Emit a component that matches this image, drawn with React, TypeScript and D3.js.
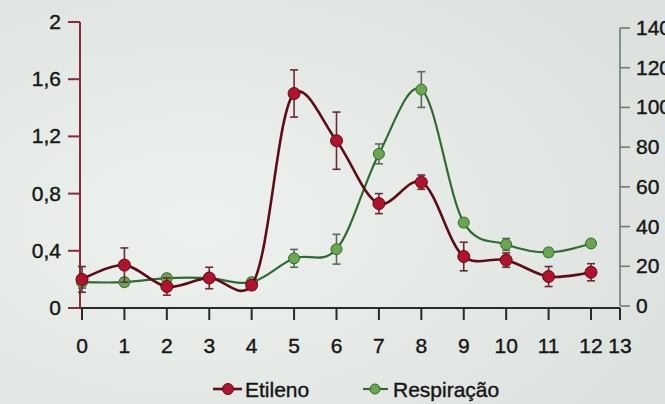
import React from "react";
import * as d3 from "d3";

const days = [0, 1, 2, 3, 4, 5, 6, 7, 8, 9, 10, 11, 12];
const etileno = [0.2, 0.3, 0.15, 0.21, 0.16, 1.5, 1.17, 0.73, 0.88, 0.36, 0.335, 0.22, 0.25];
const etilenoErr = [0.09, 0.12, 0.06, 0.075, 0.03, 0.165, 0.2, 0.07, 0.05, 0.1, 0.05, 0.07, 0.06];
const respiracao = [12, 12, 14, 14, 12, 24, 28.6, 76.6, 109, 42, 31, 27, 31.5];
const respiracaoErr = [3, 2, 2, 2, 2, 4.5, 7.5, 5, 9, 2, 3, 2, 1];
const xTicks = [0, 1, 2, 3, 4, 5, 6, 7, 8, 9, 10, 11, 12, 13];
const leftTicks = [0, 0.4, 0.8, 1.2, 1.6, 2];
const rightTicks = [0, 20, 40, 60, 80, 100, 120, 140];
const seriesNames = ["Etileno", "Respiração"];

const W = 665;
const H = 404;
const FONT = "'Liberation Sans', Arial, sans-serif";

const RED_LINE = "#5e0c16";
const RED_FILL = "#b3122c";
const RED_ERR = "#6a2a34";
const GREEN_LINE = "#2f6a30";
const GREEN_FILL = "#6aa650";
const GREEN_ERR = "#5a6a5a";
const TEXT = "#161616";

export default function App() {
  const x = d3.scaleLinear().domain([0, 12, 13]).range([82, 591, 620]);
  const yL = d3.scaleLinear().domain([0, 2]).range([308, 22]);
  const yR = d3.scaleLinear().domain([0, 140]).range([306, 28]);

  const lineL = d3
    .line<number>()
    .x((_, i) => x(days[i]))
    .y((d) => yL(d))
    .curve(d3.curveCatmullRom.alpha(0.25));
  const lineR = d3
    .line<number>()
    .x((_, i) => x(days[i]))
    .y((d) => yR(d))
    .curve(d3.curveCatmullRom.alpha(0.1));

  const fmt = (v: number) => String(v).replace(".", ",");

  const errBars = (
    vals: number[],
    errs: number[],
    y: d3.ScaleLinear<number, number>,
    color: string
  ) =>
    vals.map((v, i) => {
      const cx = x(days[i]);
      const t = y(v + errs[i]);
      const b = y(v - errs[i]);
      return (
        <g key={i} stroke={color} strokeWidth={1.6}>
          <line x1={cx} x2={cx} y1={t} y2={b} />
          <line x1={cx - 4} x2={cx + 4} y1={t} y2={t} />
          <line x1={cx - 4} x2={cx + 4} y1={b} y2={b} />
        </g>
      );
    });

  const textStyle = { paintOrder: "stroke" as const };

  return (
    <svg
      width={W}
      height={H}
      style={{ position: "absolute", left: 0, top: 0 }}
      fontFamily={FONT}
    >
      <defs>
        <radialGradient id="bg" cx="0.3" cy="0.55" r="0.8">
          <stop offset="0" stopColor="#eef2ef" />
          <stop offset="1" stopColor="#dce1dd" />
        </radialGradient>
      </defs>
      <rect width={W} height={H} fill="url(#bg)" />

      <g fill={TEXT} stroke={TEXT} strokeWidth={0.4} style={textStyle} fontSize={21}>
        {xTicks.map((t) => (
          <text key={"x" + t} x={x(t)} y={353} textAnchor="middle">
            {t}
          </text>
        ))}
        {leftTicks.map((t) => (
          <text key={"l" + t} x={61} y={yL(t) + 7} textAnchor="end">
            {fmt(t)}
          </text>
        ))}
        {rightTicks.map((t) => (
          <text key={"r" + t} x={636} y={yR(t) + 7} textAnchor="start">
            {t}
          </text>
        ))}
        <text x={245} y={397}>{seriesNames[0]}</text>
        <text x={393} y={397}>{seriesNames[1]}</text>
      </g>

      {/* x axis */}
      <line x1={80} x2={620} y1={308} y2={308} stroke="#2a2a2a" strokeWidth={2} />
      {xTicks.map((t) => (
        <line key={t} x1={x(t)} x2={x(t)} y1={308} y2={320} stroke="#2a2a2a" strokeWidth={2} />
      ))}

      {/* left axis */}
      <line x1={80} x2={80} y1={yL(2)} y2={yL(0)} stroke="#8a2a35" strokeWidth={2} />
      {leftTicks.map((t) => (
        <line key={t} x1={68} x2={80} y1={yL(t)} y2={yL(t)} stroke="#8a2a35" strokeWidth={2} />
      ))}

      {/* right axis */}
      <line x1={620} x2={620} y1={yR(140)} y2={yR(0)} stroke="#6f7d6f" strokeWidth={1.6} />
      {rightTicks.map((t) => (
        <line key={t} x1={620} x2={630} y1={yR(t)} y2={yR(t)} stroke="#6f7d6f" strokeWidth={1.6} />
      ))}

      {/* Respiração */}
      {errBars(respiracao, respiracaoErr, yR, GREEN_ERR)}
      <path d={lineR(respiracao) || ""} fill="none" stroke={GREEN_LINE} strokeWidth={2.2} />
      {respiracao.map((v, i) => (
        <circle key={i} cx={x(days[i])} cy={yR(v)} r={5.5} fill={GREEN_FILL} stroke={GREEN_LINE} strokeWidth={1} />
      ))}

      {/* Etileno */}
      {errBars(etileno, etilenoErr, yL, RED_ERR)}
      <path d={lineL(etileno) || ""} fill="none" stroke={RED_LINE} strokeWidth={2.6} />
      {etileno.map((v, i) => (
        <circle key={i} cx={x(days[i])} cy={yL(v)} r={6} fill={RED_FILL} stroke={RED_LINE} strokeWidth={1} />
      ))}

      {/* legend marks */}
      <line x1={213} x2={242} y1={389} y2={389} stroke={RED_LINE} strokeWidth={2.6} />
      <circle cx={228} cy={389} r={5.5} fill={RED_FILL} stroke={RED_LINE} />
      <line x1={363} x2={388} y1={389} y2={389} stroke={GREEN_LINE} strokeWidth={2.2} />
      <circle cx={375} cy={389} r={5} fill={GREEN_FILL} stroke={GREEN_LINE} />
    </svg>
  );
}
